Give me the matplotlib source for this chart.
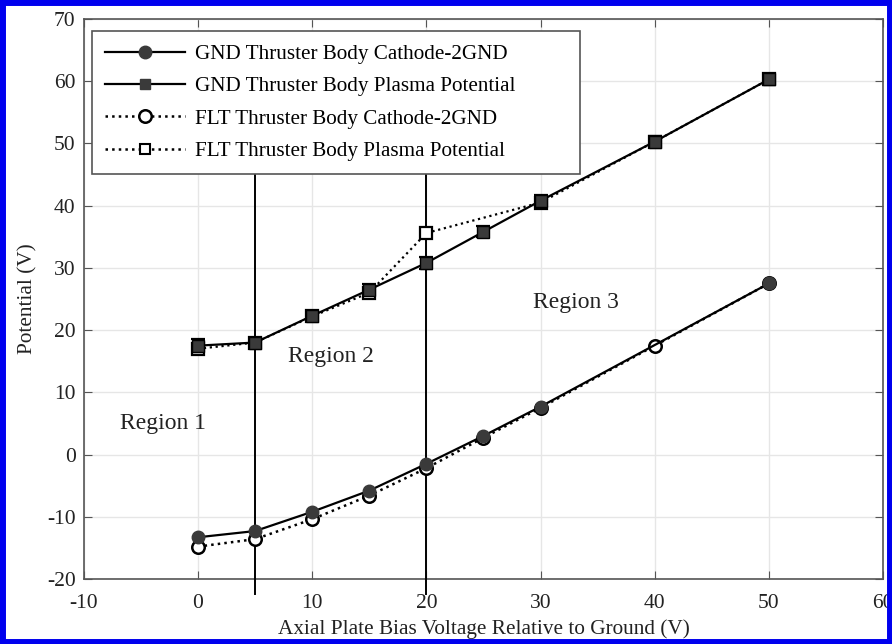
import matplotlib
matplotlib.use("Agg")
import matplotlib.pyplot as plt
from matplotlib.patches import Rectangle
from matplotlib.lines import Line2D

plt.rcParams['font.family'] = ['Liberation Serif', 'DejaVu Serif']
plt.rcParams['axes.unicode_minus'] = False

x_gnd_cathode = [0, 5, 10, 15, 20, 25, 30, 50]
gnd_cathode = [-13.3, -12.3, -9.2, -5.8, -1.5, 3.0, 7.7, 27.5]
x_gnd_plasma = [0, 5, 10, 15, 20, 25, 30, 40, 50]
gnd_plasma = [17.5, 18.0, 22.3, 26.5, 30.8, 35.8, 40.8, 50.3, 60.3]
gnd_plasma_err = [1.0, 0.8, 0.8, 0.9, 1.0, 0.9, 0.9, 0.9, 0.9]
x_flt_cathode = [0, 5, 10, 15, 20, 25, 30, 40, 50]
flt_cathode = [-14.8, -13.6, -10.4, -6.6, -2.2, 2.7, 7.5, 17.5, 27.5]
x_flt_plasma = [0, 5, 10, 15, 20, 30, 40, 50]
flt_plasma = [17.0, 18.0, 22.2, 26.0, 35.6, 40.5, 50.3, 60.3]
flt_plasma_err = [0.8, 0.8, 0.7, 0.8, 0.8, 0.8, 0.8, 0.8]

region_x = [5, 20]
region_labels = ["Region 1", "Region 2", "Region 3"]
region_label_pos = [(-3.1, 5.0), (11.6, 15.7), (33.1, 24.5)]

fig = plt.figure(figsize=(8.92, 6.44), dpi=100)
ax = fig.add_axes([0.094, 0.101, 0.896, 0.8695])

dark = '#3a3a3a'
ax.plot(x_flt_cathode, flt_cathode, ':', color='black', lw=1.8, marker='o', ms=9,
        mfc='white', mec='black', mew=1.8, zorder=4)
ax.errorbar(x_flt_plasma, flt_plasma, yerr=flt_plasma_err, fmt=':', color='black', lw=1.6,
            marker='s', ms=8, mfc='white', mec='black', mew=1.6, ecolor='black', elinewidth=1.2,
            capsize=5, capthick=1.4, zorder=4)
ax.plot(x_gnd_cathode, gnd_cathode, '-', color='black', lw=1.6, marker='o', ms=9,
        mfc=dark, mec=dark, zorder=5)
ax.errorbar(x_gnd_plasma, gnd_plasma, yerr=gnd_plasma_err, fmt='-', color='black', lw=1.6,
            marker='s', ms=8, mfc=dark, mec='black', ecolor='black', elinewidth=1.4,
            capsize=5, capthick=1.6, zorder=5)

for xv in region_x:
    ax.plot([xv, xv], [-22.4, 45.0], color='black', lw=1.4, clip_on=False, zorder=3)

for lab, (tx, ty) in zip(region_labels, region_label_pos):
    ax.text(tx, ty, lab, fontsize=17, ha='center', va='center', color='#222222')

ax.set_xlim(-10, 60)
ax.set_ylim(-20, 70)
ax.set_xticks(range(-10, 61, 10))
ax.set_yticks(range(-20, 71, 10))
ax.grid(True, color='#e6e6e6', lw=1.0)
ax.set_axisbelow(True)
ax.tick_params(direction='in', top=True, right=True, labelsize=15.5, length=6,
               color='#555555', labelcolor='#222222')
ax.tick_params(axis='x', pad=11)
ax.tick_params(axis='y', pad=6)
for s in ax.spines.values():
    s.set_color('#555555')
    s.set_linewidth(1.2)

ax.set_xlabel('Axial Plate Bias Voltage Relative to Ground (V)', fontsize=15.3, color='#222222', labelpad=4)
ax.set_ylabel('Potential (V)', fontsize=15.3, color='#222222', labelpad=7)

handles = [
    Line2D([], [], ls='-', color='black', lw=1.6, marker='o', ms=9, mfc=dark, mec=dark),
    Line2D([], [], ls='-', color='black', lw=1.6, marker='s', ms=7, mfc=dark, mec=dark),
    Line2D([], [], ls=':', color='black', lw=1.8, marker='o', ms=9, mfc='white', mec='black', mew=1.8),
    Line2D([], [], ls=':', color='black', lw=1.8, marker='s', ms=7, mfc='white', mec='black', mew=1.5),
]
labels = ['GND Thruster Body Cathode-2GND', 'GND Thruster Body Plasma Potential',
          'FLT Thruster Body Cathode-2GND', 'FLT Thruster Body Plasma Potential']
leg = ax.legend(handles, labels, loc='upper left', bbox_to_anchor=(0.010, 0.3, 0.611, 0.6785),
                mode='expand', borderaxespad=0.0,
                fontsize=15.2, handlelength=3.8, frameon=True, fancybox=False,
                edgecolor='#555555', framealpha=1, borderpad=0.62, labelspacing=0.6,
                handletextpad=0.45)
leg.get_frame().set_linewidth(1.2)
leg.set_zorder(10)

fig.patches.append(Rectangle((0.0025, 0.0035), 0.995, 0.993, transform=fig.transFigure,
                             fill=False, edgecolor='#0000ee', lw=5, zorder=100))

fig.savefig('out.png', dpi=100)
